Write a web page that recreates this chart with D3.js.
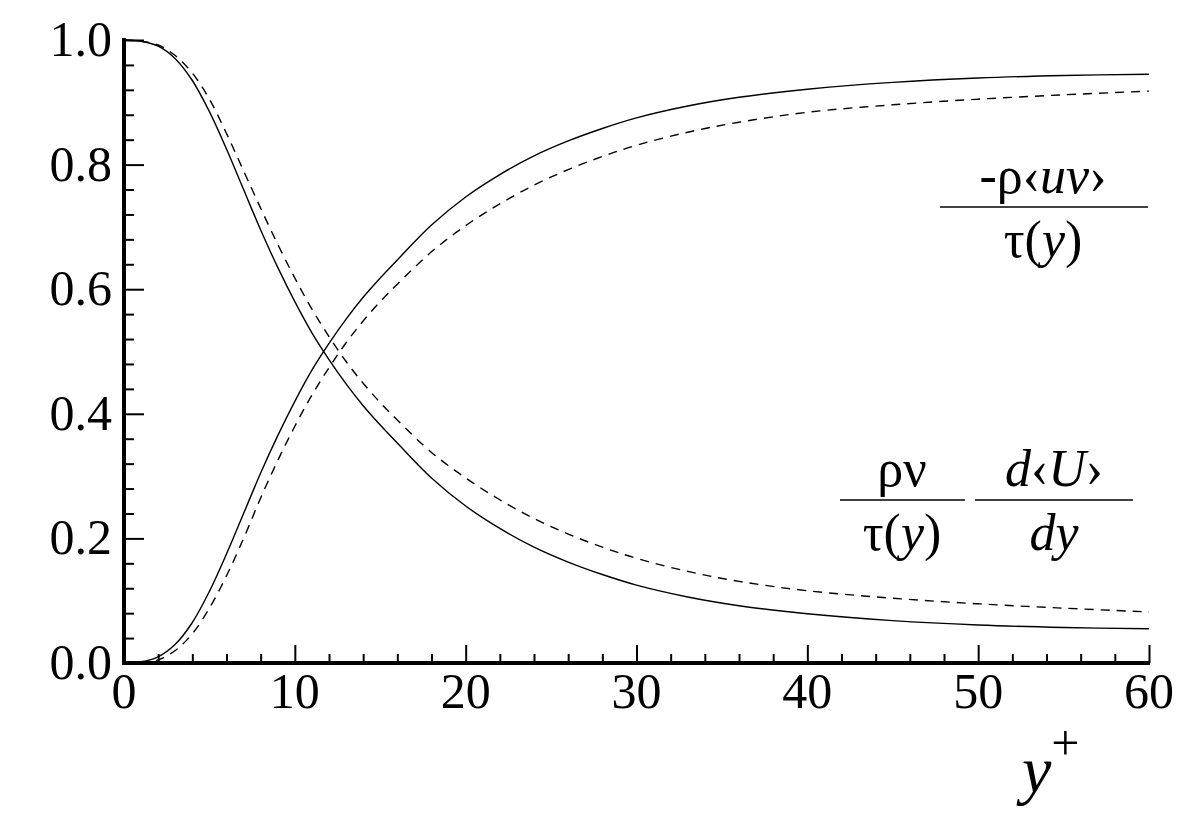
<!DOCTYPE html><html><head><meta charset="utf-8"><script src="https://cdn.jsdelivr.net/npm/d3@7"></script>
<style>body{margin:0;background:#fff}</style></head><body>
<svg id="c" width="1204" height="813" font-family="'Liberation Serif','Times New Roman','DejaVu Serif',serif"></svg>
<script>
const xs=[0,1,2,3,4,5,6,7,8,9,10,11,12,13,14,15,16,18,20,22,24,26,28,30,33,36,40,45,50,55,60];
const solidFall=[1.0,.998,.99,.97,.935,.885,.825,.76,.695,.635,.58,.53,.487,.448,.413,.382,.353,.297,.252,.216,.186,.162,.142,.125,.106,.092,.079,.068,.061,.057,.055];
const solidRise=[0,.002,.01,.03,.065,.115,.175,.24,.305,.365,.42,.47,.513,.552,.587,.618,.647,.703,.748,.784,.814,.838,.858,.875,.894,.908,.921,.932,.939,.943,.945];
const dashFall=[1.0,.998,.992,.975,.947,.905,.85,.79,.73,.672,.618,.568,.524,.484,.449,.418,.39,.338,.297,.262,.232,.207,.186,.168,.147,.131,.116,.104,.095,.088,.082];
const dashRise=[0,0,.005,.02,.047,.088,.14,.2,.265,.325,.38,.43,.474,.514,.549,.58,.608,.66,.702,.737,.767,.792,.813,.831,.852,.868,.884,.896,.905,.912,.918];
const xTicks=[0,10,20,30,40,50,60], yTicks=[0,.2,.4,.6,.8,1];
const svg=d3.select("#c");
const x=d3.scaleLinear().domain([0,60]).range([124,1149]);
const y=d3.scaleLinear().domain([0,1]).range([663,40]);
const line=d3.line().x((d,i)=>x(xs[i])).y(d=>y(d)).curve(d3.curveCatmullRom);
[[solidFall,null],[solidRise,null],[dashFall,"9,7"],[dashRise,"9,7"]].forEach(([s,da])=>{
 svg.append("path").attr("d",line(s)).attr("fill","none").attr("stroke","#000").attr("stroke-width",1.4).attr("stroke-dasharray",da);
});
const gx=svg.append("g").attr("transform","translate(0,663)");
gx.call(d3.axisTop(x).tickValues(d3.range(0,61,2)).tickSize(9).tickFormat(""));
gx.call(g=>g.selectAll(".tick").filter(d=>d%10===0).select("line").attr("y2",-18));
gx.selectAll("line").attr("stroke-width",2);
gx.select(".domain").attr("stroke-width",4).attr("d",`M122,0H1150`);
xTicks.forEach(t=>svg.append("text").attr("x",x(t)).attr("y",708).attr("text-anchor","middle").attr("font-size",50).text(t));
const gy=svg.append("g").attr("transform","translate(124,0)");
gy.call(d3.axisRight(y).tickValues(d3.range(0,26).map(i=>i*0.04)).tickSize(10).tickFormat(""));
gy.call(g=>g.selectAll(".tick").filter(d=>Math.abs(d/0.2-Math.round(d/0.2))<1e-6).select("line").attr("x2",20));
gy.selectAll("line").attr("stroke-width",2);
gy.select(".domain").attr("stroke-width",4).attr("d",`M0,38V665`);
yTicks.forEach(t=>svg.append("text").attr("x",112).attr("y",y(t)+16).attr("text-anchor","end").attr("font-size",50).text(t.toFixed(1)));
const tt=svg.append("text").attr("x",1022).attr("y",792).attr("font-size",66);
tt.append("tspan").attr("font-style","italic").text("y");
tt.append("tspan").attr("dy",-32).attr("font-size",50).text("+");
function frac(cx,ly,x1,x2,top,bot){
 svg.append("line").attr("x1",x1).attr("x2",x2).attr("y1",ly).attr("y2",ly).attr("stroke","#000").attr("stroke-width",1.5);
 const a=svg.append("text").attr("x",cx).attr("y",ly-14).attr("text-anchor","middle").attr("font-size",52);
 top.forEach(([t,it])=>a.append("tspan").attr("font-style",it?"italic":"normal").text(t));
 const b=svg.append("text").attr("x",cx).attr("y",ly+50).attr("text-anchor","middle").attr("font-size",52);
 bot.forEach(([t,it])=>b.append("tspan").attr("font-style",it?"italic":"normal").text(t));
}
frac(1043,207,940,1148,[["-ρ",0],["‹",0],["uv",1],["›",0]],[["τ(",0],["y",1],[")",0]]);
frac(902,500,840,965,[["ρν",0]],[["τ(",0],["y",1],[")",0]]);
frac(1054,500,975,1133,[["d",1],["‹",0],["U",1],["›",0]],[["dy",1]]);
</script></body></html>
